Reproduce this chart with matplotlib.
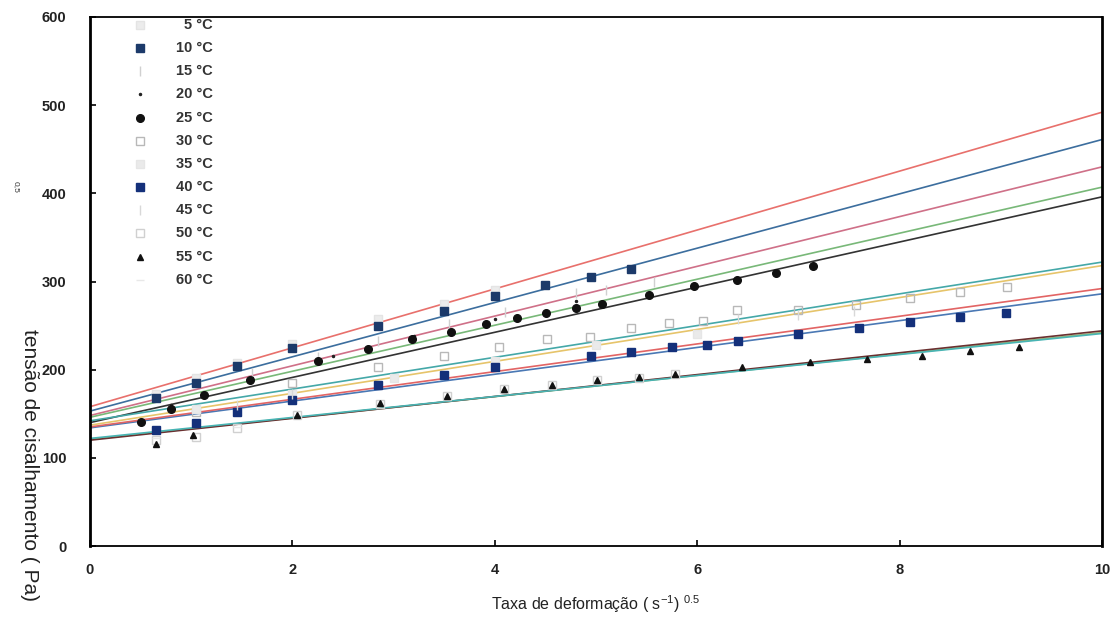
import matplotlib
matplotlib.use("Agg")
import matplotlib.pyplot as plt
import numpy as np

plt.rcParams['font.family'] = ['Liberation Sans', 'DejaVu Sans']
plt.rcParams['mathtext.fontset'] = 'custom'
plt.rcParams['mathtext.rm'] = 'Liberation Sans'

# ---------------- data ----------------
labels = ['5 °C', '10 °C', '15 °C', '20 °C', '25 °C', '30 °C',
          '35 °C', '40 °C', '45 °C', '50 °C', '55 °C', '60 °C']

x5 = [0.65, 1.05, 1.45, 2.0, 2.85, 3.5, 4.0]
y5 = [172, 190, 207, 229, 257, 275, 290]

x10 = [0.65, 1.05, 1.45, 2.0, 2.85, 3.5, 4.0, 4.5, 4.95, 5.35]
y10 = [168, 185, 204, 225, 250, 267, 283, 296, 305, 314]

x15 = [1.6, 2.25, 2.85, 3.55, 4.1, 4.8, 5.1, 5.57]
y15 = [196, 214, 232, 252, 265, 287, 290, 299]

x20 = [0.8, 1.6, 2.4, 3.2, 4.0, 4.8]
y20 = [160, 190, 215, 238, 258, 278]

x25 = [0.5, 0.8, 1.13, 1.58, 2.25, 2.75, 3.18, 3.57, 3.91, 4.22, 4.51,
       4.8, 5.06, 5.52, 5.97, 6.39, 6.78, 7.14]
y25 = [141, 155, 171, 188, 210, 223, 235, 243, 252, 259, 264,
       270, 275, 285, 295, 302, 310, 318]

x30 = [1.05, 2.0, 2.85, 3.5, 4.04, 4.52, 4.94, 5.35, 5.72, 6.06, 6.39,
       7.0, 7.57, 8.1, 8.6, 9.06]
y30 = [152, 185, 203, 216, 226, 235, 237, 247, 253, 255, 268,
       268, 273, 281, 288, 294]

x35 = [1.05, 2.0, 3.0, 4.0, 5.0, 6.0]
y35 = [155, 172, 190, 210, 228, 240]

x40 = [0.65, 1.05, 1.45, 2.0, 2.85, 3.5, 4.0, 4.95, 5.35, 5.75, 6.1,
       6.4, 7.0, 7.6, 8.1, 8.6, 9.05]
y40 = [132, 139, 152, 166, 183, 194, 203, 215, 220, 226, 228,
       233, 240, 247, 254, 260, 264]

x45 = [1.45, 2.0, 6.4, 7.0, 7.55]
y45 = [160, 172, 258, 262, 266]

x50 = [0.65, 1.05, 1.45, 2.05, 2.87, 3.53, 4.09, 4.57, 5.01, 5.42, 5.78]
y50 = [120, 124, 134, 149, 161, 170, 178, 183, 188, 191, 195]

x55 = [0.65, 1.02, 2.05, 2.87, 3.53, 4.09, 4.57, 5.01, 5.42, 5.78,
       6.44, 7.11, 7.68, 8.22, 8.7, 9.18]
y55 = [116, 126, 149, 162, 170, 178, 183, 188, 192, 195,
       203, 209, 212, 216, 221, 226]

x60 = [0.65, 1.45]
y60 = [122, 135]

# fitted lines: value at x = 0 and at x = 10
fit_x = [0, 10]
fit_start = [158, 153, 148, 146, 140, 142, 137, 134, 135, 121, 120, 122]
fit_end = [492, 461, 430, 407, 396, 322, 318, 286, 292, 242, 244, 241]

# ---------------- styles ----------------
line_colors = ['#e8706c', '#3c6e9e', '#cf7088', '#78b878', '#333333',
               '#44a8a8', '#e6c46a', '#4a78b4', '#e26464', '#9ab870',
               '#6a3030', '#48b4b4']
markers = ['s', 's', '|', '.', 'o', 's', 's', 's', '|', 's', '^', '_']
m_face = ['#ececec', '#1c3a6a', '#d8d8d8', '#222222', '#111111', 'none',
          '#eaeaea', '#14307a', '#e0e0e0', 'none', '#111111', '#e8e8e8']
m_edge = ['#e4e4e4', '#1c3a6a', '#d0d0d0', '#222222', '#111111', '#b8b8b8',
          '#e6e6e6', '#14307a', '#d8d8d8', '#d0d0d0', '#111111', '#e8e8e8']
m_size = [5.5, 5.5, 7, 3, 5.5, 5.5, 5.5, 5.5, 7, 5.5, 5, 6]

xs = [x5, x10, x15, x20, x25, x30, x35, x40, x45, x50, x55, x60]
ys = [y5, y10, y15, y20, y25, y30, y35, y40, y45, y50, y55, y60]

fig = plt.figure(figsize=(11.16, 6.24), dpi=100)
ax = fig.add_axes([90 / 1116, 78 / 624, 1012 / 1116, 529 / 624])

for i in range(len(labels)):
    ax.plot(fit_x, [fit_start[i], fit_end[i]], color=line_colors[i],
            lw=1.2, zorder=2)
for i in range(len(labels)):
    ax.plot(xs[i], ys[i], linestyle='none', marker=markers[i],
            markersize=m_size[i], markerfacecolor=m_face[i],
            markeredgecolor=m_edge[i], markeredgewidth=1.0, zorder=3)

ax.set_xlim(0, 10)
ax.set_ylim(0, 600)
ax.set_xticks([0, 2, 4, 6, 8, 10])
ax.set_yticks([0, 100, 200, 300, 400, 500, 600])
ax.tick_params(axis='both', direction='in', length=4, width=1.2,
               labelsize=10.5, labelcolor='#222222')
ax.tick_params(axis='y', pad=17)
ax.tick_params(axis='x', pad=12)
for lab in ax.get_xticklabels() + ax.get_yticklabels():
    lab.set_fontweight('bold')
for s in ['left', 'right']:
    ax.spines[s].set_linewidth(2.0)
for s in ['top', 'bottom']:
    ax.spines[s].set_linewidth(1.3)

# legend drawn as marker + right-aligned text
row_y0 = 0.985
row_dy = 0.0438
for i, lab in enumerate(labels):
    yy = row_y0 - i * row_dy
    ax.plot([0.049], [yy], transform=ax.transAxes, linestyle='none',
            marker=markers[i], markersize=m_size[i],
            markerfacecolor=m_face[i], markeredgecolor=m_edge[i],
            markeredgewidth=1.0, clip_on=False, zorder=4)
    ax.text(0.1215, yy, lab, transform=ax.transAxes, ha='right',
            va='center', fontsize=10.5, fontweight='bold', color='#333333')

ax.set_xlabel('Taxa de deformação ( s$^{\\mathregular{-1}}$) $^{\\mathregular{0.5}}$',
              fontsize=11.5, labelpad=12, color='#222222')

fig.text(0.026, 0.472, 'tensão de cisalhamento ( Pa)', rotation=270,
         ha='center', va='top', fontsize=15, color='#222222',
         family=['Liberation Sans Narrow', 'Liberation Sans', 'DejaVu Sans'])
fig.text(0.014, 0.70, '0,5', rotation=270, ha='center', va='center',
         fontsize=6, color='#333333')

fig.savefig('out.png', dpi=100)
